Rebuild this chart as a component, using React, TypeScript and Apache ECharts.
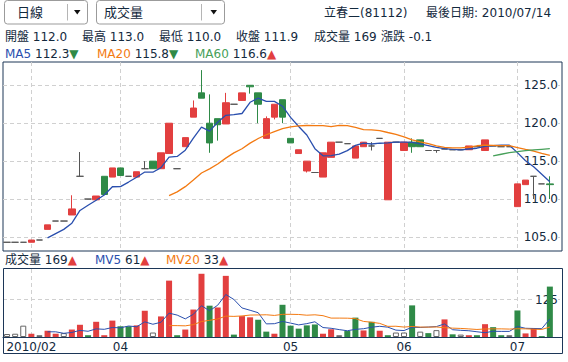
import React, { useEffect, useRef } from 'react';
import * as echarts from 'echarts';

// ---------- data ----------
const dates = [
  '2010/01/27', '2010/01/28', '2010/01/29',
  '2010/02/01', '2010/02/02', '2010/02/03', '2010/02/04', '2010/02/05', '2010/02/08', '2010/02/09', '2010/02/10', '2010/02/22', '2010/02/23', '2010/02/24',
  '2010/04/01', '2010/04/02', '2010/04/06', '2010/04/07', '2010/04/08', '2010/04/09', '2010/04/12', '2010/04/13', '2010/04/14', '2010/04/15', '2010/04/16',
  '2010/04/19', '2010/04/20', '2010/04/21', '2010/04/22', '2010/04/23', '2010/04/26', '2010/04/27', '2010/04/28', '2010/04/29', '2010/04/30',
  '2010/05/03', '2010/05/04', '2010/05/05', '2010/05/06', '2010/05/07', '2010/05/10', '2010/05/11', '2010/05/12', '2010/05/13', '2010/05/14',
  '2010/05/17', '2010/05/18', '2010/05/19', '2010/05/20',
  '2010/06/01', '2010/06/02', '2010/06/03', '2010/06/04', '2010/06/07', '2010/06/08', '2010/06/09', '2010/06/10', '2010/06/11', '2010/06/14',
  '2010/06/15', '2010/06/17', '2010/06/18', '2010/06/21',
  '2010/07/01', '2010/07/02', '2010/07/06', '2010/07/12', '2010/07/14',
];

const opens = [
  104.3, 104.3, 104.3, 104.3, 104.6, 106.0, 107.1, 107.1, 107.9, 113.0,
  110.0, 109.9, 113.0, 112.9, 114.1, 113.0, 112.9, 114.0, 115.0, 114.0,
  116.0, 114.0, 116.9, 120.8, 124.0, 120.0, 120.6, 119.9, 122.5, 123.0,
  125.0, 124.0, 118.0, 120.8, 123.1, 118.0, 116.0, 113.7, 113.5, 112.9,
  115.5, 117.5, 117.3, 115.4, 116.9, 117.0, 118.0, 109.9, 117.5, 116.4,
  117.5, 117.8, 116.4, 116.4, 116.6, 116.5, 116.5, 116.5, 116.9, 116.4,
  117.0, 116.9, 116.9, 109.0, 111.9, 113.0, 112.0, 112.0,
];
const closes = [
  104.3, 104.3, 104.3, 104.6, 104.6, 106.6, 107.1, 107.1, 108.7, 113.0,
  110.0, 110.4, 110.6, 114.1, 113.1, 113.0, 113.6, 114.0, 114.0, 116.1,
  120.0, 114.0, 118.1, 122.0, 123.3, 117.4, 119.8, 122.7, 122.5, 124.0,
  124.8, 122.5, 120.6, 122.5, 120.8, 117.4, 116.5, 115.0, 113.5, 116.1,
  117.5, 117.5, 117.3, 117.0, 117.5, 117.0, 118.0, 117.5, 117.5, 117.5,
  116.9, 116.9, 116.4, 116.4, 116.6, 116.5, 116.5, 117.0, 116.9, 117.8,
  117.0, 116.9, 116.9, 112.0, 112.5, 113.0, 112.0, 111.9,
];
const lows = [
  104.3, 104.3, 104.3, 104.3, 104.6, 106.0, 107.1, 107.1, 107.9, 113.0,
  110.0, 109.9, 110.6, 112.9, 113.1, 113.0, 112.9, 114.0, 114.0, 114.0,
  116.0, 114.0, 116.9, 120.8, 123.3, 116.1, 117.7, 119.9, 122.5, 123.0,
  123.9, 120.0, 118.0, 120.5, 120.0, 117.4, 116.0, 113.5, 113.5, 112.9,
  115.5, 117.5, 117.3, 115.4, 116.9, 116.4, 118.0, 109.9, 117.5, 116.4,
  116.1, 116.9, 116.4, 116.1, 116.6, 116.5, 116.5, 116.5, 116.9, 116.4,
  117.0, 116.9, 116.9, 109.0, 111.9, 110.0, 112.0, 110.0,
];
const highs = [
  104.3, 104.3, 104.3, 104.6, 104.6, 106.6, 107.1, 107.1, 110.5, 116.2,
  110.0, 110.4, 113.0, 114.1, 114.1, 113.0, 113.6, 115.0, 115.0, 116.1,
  120.0, 114.0, 118.1, 123.0, 127.0, 123.8, 120.6, 124.0, 122.5, 124.0,
  125.0, 124.0, 120.9, 122.5, 123.1, 118.0, 116.5, 115.0, 113.5, 116.1,
  117.5, 117.5, 117.3, 117.0, 117.5, 117.5, 118.0, 117.5, 117.5, 117.5,
  118.0, 117.8, 116.4, 116.4, 116.6, 116.5, 116.5, 117.0, 116.9, 117.8,
  117.0, 116.9, 116.9, 112.0, 112.5, 113.0, 112.0, 113.0,
];
const volumes = [
  10, 11, 38, 11, 6, 21, 11, 13, 25, 41,
  6, 51, 6, 55, 36, 36, 39, 88, 15, 69,
  189, 6, 25, 92, 212, 105, 99, 205, 8, 70,
  66, 58, 18, 11, 108, 38, 28, 39, 42, 11,
  26, 6, 20, 65, 22, 51, 21, 6, 15, 15,
  106, 18, 13, 23, 59, 9, 8, 6, 6, 43,
  33, 6, 6, 89, 12, 30, 3, 169,
];

const priceTicks = [105, 110, 115, 120, 125];
const volumeTicks = [125];
const monthTickDates = ['2010/02/01', '2010/04/01', '2010/05/03', '2010/06/01', '2010/07/01'];
const monthTickLabels = ['2010/02', '04', '05', '06', '07'];

const stockTitle = '立春二(81112)';

// ---------- style ----------
const RED = '#e23f3f';
const GREEN = '#2f8a47';
const DOJI = '#555555';
const BLUE = '#2a4fae';
const ORANGE = '#f37a12';
const MA60C = '#47a05a';
const DARK = '#13293d';
const GRIDC = '#d0d0d0';
const NAVY = '#1c3657';
const F = '"DejaVu Sans", "Noto Sans CJK TC", sans-serif';

function movingAverage(values: number[], n: number): (number | string)[] {
  return values.map((_, i) => {
    if (i < n) return '-';
    let s = 0;
    for (let k = i - n + 1; k <= i; k++) s += values[k];
    return s / n;
  });
}

export default function App() {
  const ref = useRef<HTMLDivElement>(null);

  useEffect(() => {
    if (!ref.current) return;
    const chart = echarts.init(ref.current, null, { renderer: 'svg' });

    const last = dates.length - 1;
    const ma5 = movingAverage(closes, 5);
    const ma20 = movingAverage(closes, 20);
    const ma60 = movingAverage(closes, 60);
    const mv5 = movingAverage(volumes, 5);
    const mv20 = movingAverage(volumes, 20);

    const arrow = (a: any, b: any) => (Number(a) >= Number(b) ? '{u|▲}' : '{d|▼}');

    const candleData = dates.map((_, i) => {
      const item: any = { value: [opens[i], closes[i], lows[i], highs[i]] };
      if (opens[i] === closes[i]) {
        item.itemStyle = { color: DOJI, color0: DOJI, borderColor: DOJI, borderColor0: DOJI };
      }
      return item;
    });

    const volData = volumes.map((v, i) => {
      const d = i > 0 ? closes[i] - closes[i - 1] : 0;
      if (d > 1e-9) return { value: v, itemStyle: { color: RED } };
      if (d < -1e-9) return { value: v, itemStyle: { color: GREEN } };
      return { value: v, itemStyle: { color: '#ffffff', borderColor: '#666666', borderWidth: 1 } };
    });

    const tickIdx = monthTickDates.map((d) => dates.indexOf(d));
    const isTick = (index: number) => tickIdx.indexOf(index) >= 0;
    const labelOf = (value: string) => {
      const k = monthTickDates.indexOf(value);
      return k >= 0 ? monthTickLabels[k] : '';
    };

    const richBase = {
      fontFamily: F,
      fontSize: 12,
    };
    const rich = {
      t: { ...richBase, fill: DARK },
      b: { ...richBase, fill: BLUE },
      o: { ...richBase, fill: ORANGE },
      g: { ...richBase, fill: MA60C },
      u: { ...richBase, fill: RED },
      d: { ...richBase, fill: GREEN },
    };

    const text = (x: number, y: number, t: string, size = 12) => ({
      type: 'text',
      x,
      y,
      silent: true,
      style: {
        text: t,
        fontFamily: F,
        fontSize: size,
        fill: DARK,
        verticalAlign: 'middle',
        align: 'left',
        rich,
      },
    });

    const change = (closes[last] - closes[last - 1]).toFixed(1);

    const graphic = [
      // dropdown 1
      {
        type: 'rect',
        shape: { x: 4.5, y: 0.5, width: 83, height: 23.5, r: 3 },
        style: { fill: '#ffffff', stroke: '#9b9b9b', lineWidth: 1 },
      },
      { type: 'line', shape: { x1: 67.5, y1: 4, x2: 67.5, y2: 20.5 }, style: { stroke: '#b5b5b5', lineWidth: 1 } },
      { type: 'polygon', shape: { points: [[74, 10], [80.5, 10], [77.25, 14.5]] }, style: { fill: '#111111' } },
      text(17, 12.5, '日線', 13),
      // dropdown 2
      {
        type: 'rect',
        shape: { x: 96.5, y: 0.5, width: 128, height: 23.5, r: 3 },
        style: { fill: '#ffffff', stroke: '#9b9b9b', lineWidth: 1 },
      },
      { type: 'line', shape: { x1: 201.5, y1: 4, x2: 201.5, y2: 20.5 }, style: { stroke: '#b5b5b5', lineWidth: 1 } },
      { type: 'polygon', shape: { points: [[210.5, 10], [217, 10], [213.75, 14.5]] }, style: { fill: '#111111' } },
      text(104, 12.5, '成交量', 13),
      // title
      text(324, 12.5, stockTitle),
      text(426, 12.5, '最後日期: ' + dates[last]),
      // row 2
      text(5, 37, '開盤 ' + opens[last].toFixed(1)),
      text(82, 37, '最高 ' + highs[last].toFixed(1)),
      text(159, 37, '最低 ' + lows[last].toFixed(1)),
      text(236, 37, '收盤 ' + closes[last].toFixed(1)),
      text(314, 37, '成交量 ' + volumes[last]),
      text(381, 37, '漲跌 ' + change),
      // row 3
      text(5, 54, '{b|MA5} {t|' + (ma5[last] as number).toFixed(1) + '}' + arrow(ma5[last], ma5[last - 1])),
      text(97, 54, '{o|MA20} {t|' + (ma20[last] as number).toFixed(1) + '}' + arrow(ma20[last], ma20[last - 1])),
      text(195, 54, '{g|MA60} {t|' + (ma60[last] as number).toFixed(1) + '}' + arrow(ma60[last], ma60[last - 1])),
      // volume legend
      text(5, 260, '{t|成交量 ' + volumes[last] + '}' + arrow(volumes[last], volumes[last - 1])),
      text(95, 260, '{b|MV5} {t|' + Math.round(mv5[last] as number) + '}' + arrow(mv5[last], mv5[last - 1])),
      text(166, 260, '{o|MV20} {t|' + Math.round(mv20[last] as number) + '}' + arrow(mv20[last], mv20[last - 1])),
      // volume box
      {
        type: 'rect',
        z: 100,
        silent: true,
        shape: { x: 3.5, y: 268.5, width: 559, height: 85 },
        style: { fill: 'none', stroke: NAVY, lineWidth: 1 },
      },
    ];

    const splitX = {
      show: true,
      interval: isTick,
      alignWithLabel: true,
      lineStyle: { color: GRIDC, type: [4, 3], width: 1 },
    };
    const splitY = { show: true, lineStyle: { color: GRIDC, type: [4, 3], width: 1 } };
    const yLabel = {
      inside: true,
      color: DARK,
      fontFamily: F,
      fontSize: 12,
      margin: 4,
      backgroundColor: '#ffffff',
      padding: [0, 0, 0, 3],
    };

    const option: any = {
      animation: false,
      backgroundColor: '#ffffff',
      graphic: { elements: graphic },
      grid: [
        {
          left: 3, top: 62, width: 559, height: 189,
          show: true, borderColor: NAVY, borderWidth: 1, backgroundColor: 'transparent',
          containLabel: false, outerBoundsMode: 'none',
        },
        { left: 3, top: 269, width: 559, height: 68, show: false, containLabel: false, outerBoundsMode: 'none' },
      ],
      xAxis: [
        {
          type: 'category', gridIndex: 0, data: dates, max: dates.length, boundaryGap: true,
          axisLine: { show: false }, axisTick: { show: false }, axisLabel: { show: false },
          splitLine: splitX,
        },
        {
          type: 'category', gridIndex: 1, data: dates, max: dates.length, boundaryGap: true,
          axisLine: { show: true, onZero: false, lineStyle: { color: NAVY, width: 1 } },
          axisTick: { show: false },
          axisLabel: { show: true, interval: isTick, formatter: labelOf, color: DARK, fontFamily: F, fontSize: 12, margin: 4 },
          splitLine: splitX,
        },
      ],
      yAxis: [
        {
          type: 'value', gridIndex: 0, position: 'right', min: 103.15, max: 128.07,
          axisLine: { show: false },
          axisTick: { show: false, customValues: priceTicks },
          axisLabel: { ...yLabel, customValues: priceTicks, formatter: (v: number) => Number(v).toFixed(1) },
          splitLine: splitY,
        },
        {
          type: 'value', gridIndex: 1, position: 'right', min: 0, max: 228,
          axisLine: { show: false },
          axisTick: { show: false, customValues: volumeTicks },
          axisLabel: { ...yLabel, customValues: volumeTicks, formatter: (v: number) => String(v) },
          splitLine: splitY,
        },
      ],
      series: [
        {
          type: 'candlestick', xAxisIndex: 0, yAxisIndex: 0, data: candleData, barWidth: 7,
          itemStyle: { color: RED, color0: GREEN, borderColor: RED, borderColor0: GREEN, borderWidth: 1 },
        },
        {
          type: 'line', name: 'MA5', xAxisIndex: 0, yAxisIndex: 0, data: ma5, symbol: 'none',
          lineStyle: { color: BLUE, width: 1.3 }, itemStyle: { color: BLUE },
        },
        {
          type: 'line', name: 'MA20', xAxisIndex: 0, yAxisIndex: 0, data: ma20, symbol: 'none',
          lineStyle: { color: ORANGE, width: 1.3 }, itemStyle: { color: ORANGE },
        },
        {
          type: 'line', name: 'MA60', xAxisIndex: 0, yAxisIndex: 0, data: ma60, symbol: 'none',
          lineStyle: { color: MA60C, width: 1.3 }, itemStyle: { color: MA60C },
        },
        { type: 'bar', xAxisIndex: 1, yAxisIndex: 1, data: volData, barWidth: 6 },
        {
          type: 'line', name: 'MV5', xAxisIndex: 1, yAxisIndex: 1, data: mv5, symbol: 'none',
          lineStyle: { color: BLUE, width: 1 }, itemStyle: { color: BLUE },
        },
        {
          type: 'line', name: 'MV20', xAxisIndex: 1, yAxisIndex: 1, data: mv20, symbol: 'none',
          lineStyle: { color: ORANGE, width: 1 }, itemStyle: { color: ORANGE },
        },
      ],
    };

    chart.setOption(option);
    return () => chart.dispose();
  }, []);

  return (
    <div
      ref={ref}
      style={{ position: 'absolute', left: 0, top: 0, width: 568, height: 362, background: '#fff' }}
    />
  );
}
